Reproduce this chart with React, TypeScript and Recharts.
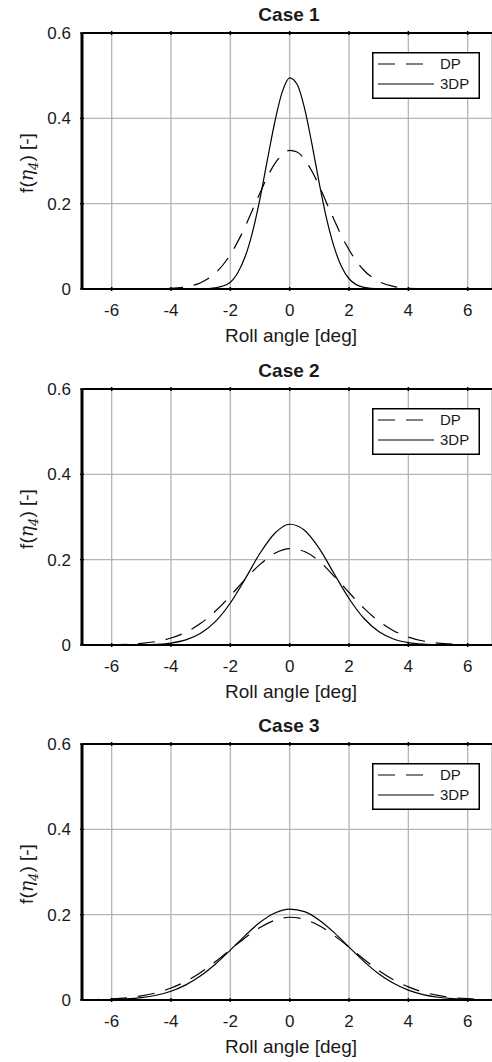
import { LineChart, Line, XAxis, YAxis, CartesianGrid, Legend, ReferenceLine } from 'recharts';

const xTicks = [-6, -4, -2, 0, 2, 4, 6];
const yTicks = [0, 0.2, 0.4, 0.6];
const seriesNames = ['DP', '3DP'];

// case 1 is narrow, so it is sampled more densely around the peak
const anglesCase1 = [-7, -6, -5, -4, -3.5, -3, -2.5, -2, -1.75, -1.5, -1.25, -1, -0.75, -0.5, -0.25, 0, 0.25, 0.5, 0.75, 1, 1.25, 1.5, 1.75, 2, 2.5, 3, 3.5, 4, 5, 6, 7];
const dpCase1 = [0, 0, 0.0001, 0.0014, 0.0049, 0.0148, 0.0375, 0.0805, 0.111, 0.146, 0.186, 0.225, 0.263, 0.294, 0.315, 0.325, 0.321, 0.304, 0.276, 0.241, 0.201, 0.162, 0.124, 0.092, 0.044, 0.018, 0.006, 0.0018, 0.0001, 0, 0];
const dp3Case1 = [0, 0, 0, 0, 0, 0.0005, 0.003, 0.016, 0.038, 0.076, 0.134, 0.212, 0.303, 0.392, 0.462, 0.495, 0.48, 0.424, 0.34, 0.247, 0.163, 0.098, 0.052, 0.024, 0.004, 0.0005, 0, 0, 0, 0, 0];

const anglesWide = [-7, -6.5, -6, -5.5, -5, -4.5, -4, -3.5, -3, -2.5, -2, -1.5, -1, -0.5, 0, 0.5, 1, 1.5, 2, 2.5, 3, 3.5, 4, 4.5, 5, 5.5, 6, 6.5, 7];
const dpCase2 = [0.0001, 0.0003, 0.0006, 0.0016, 0.0038, 0.0082, 0.0163, 0.03, 0.0508, 0.0796, 0.115, 0.154, 0.189, 0.215, 0.226, 0.219, 0.196, 0.161, 0.123, 0.0863, 0.0559, 0.0334, 0.0185, 0.0094, 0.0044, 0.0019, 0.0008, 0.0003, 0.0001];
const dp3Case2 = [0, 0, 0, 0.0001, 0.0005, 0.0016, 0.0046, 0.0119, 0.0273, 0.0552, 0.0985, 0.155, 0.215, 0.262, 0.283, 0.269, 0.226, 0.167, 0.109, 0.0627, 0.0317, 0.0142, 0.0056, 0.0019, 0.0006, 0.0002, 0, 0, 0];
const dpCase3 = [0.0005, 0.0012, 0.0026, 0.0051, 0.0096, 0.0167, 0.028, 0.0437, 0.0646, 0.09, 0.118, 0.146, 0.17, 0.187, 0.194, 0.189, 0.174, 0.151, 0.124, 0.0955, 0.0694, 0.0475, 0.0307, 0.0187, 0.0107, 0.0058, 0.003, 0.0014, 0.0006];
const dp3Case3 = [0.0002, 0.0005, 0.0012, 0.0026, 0.0056, 0.0111, 0.0206, 0.0354, 0.0566, 0.0844, 0.117, 0.151, 0.182, 0.204, 0.213, 0.207, 0.187, 0.158, 0.124, 0.0906, 0.0617, 0.0391, 0.0231, 0.0127, 0.0065, 0.0031, 0.0014, 0.0006, 0.0002];

const cases = [
  { title: 'Case 1', angles: anglesCase1, dp: dpCase1, dp3: dp3Case1, top: 0 },
  { title: 'Case 2', angles: anglesWide, dp: dpCase2, dp3: dp3Case2, top: 356 },
  { title: 'Case 3', angles: anglesWide, dp: dpCase3, dp3: dp3Case3, top: 711 },
];

const font = '"Liberation Sans", Arial, Helvetica, sans-serif';
const ink = '#1a1a1a';

function BottomTick({ x, y, payload }: any) {
  return (
    <g>
      <line x1={x} y1={y} x2={x} y2={y - 4} stroke="#000" strokeWidth={1.5} />
      <text x={x} y={y + 25} textAnchor="middle" fontSize={17} fontFamily={font} fill={ink}>
        {payload.value}
      </text>
    </g>
  );
}

function TopTick({ x, y }: any) {
  return <line x1={x} y1={y} x2={x} y2={y + 4} stroke="#000" strokeWidth={1.5} />;
}

function LeftTick({ x, y, payload }: any) {
  return (
    <g>
      <line x1={x} y1={y} x2={x + 4} y2={y} stroke="#000" strokeWidth={1.5} />
      <text x={x - 9} y={y} dy="0.36em" textAnchor="end" fontSize={17} fontFamily={font} fill={ink}>
        {payload.value}
      </text>
    </g>
  );
}

function TitleLabel({ viewBox, text }: any) {
  return (
    <text x={viewBox.x + viewBox.width / 2 + 2} y={viewBox.y + viewBox.height - 12} textAnchor="middle" fontSize={19} fontWeight="bold" fontFamily={font} fill={ink}>
      {text}
    </text>
  );
}

function XTitle({ viewBox }: any) {
  return (
    <text x={viewBox.x + viewBox.width / 2 + 4} y={viewBox.y + 53} textAnchor="middle" fontSize={19} fontFamily={font} fill={ink}>
      Roll angle [deg]
    </text>
  );
}

function YTitle({ viewBox }: any) {
  const cx = 33;
  const cy = viewBox.y + viewBox.height / 2 + 2;
  return (
    <text transform={`rotate(-90 ${cx} ${cy})`} x={cx} y={cy} textAnchor="middle" fontSize={19} fontFamily={font} fill={ink}>
      f(<tspan fontFamily="DejaVu Serif" fontStyle="italic">η</tspan>
      <tspan fontSize={13} dy={5} fontFamily="DejaVu Serif" fontStyle="italic">4</tspan>
      <tspan dy={-5}>) [-]</tspan>
    </text>
  );
}

function BoxLegend({ payload }: any) {
  const items = [...(payload ?? [])].sort((a: any, b: any) => seriesNames.indexOf(a.value) - seriesNames.indexOf(b.value));
  return (
    <svg width={108} height={47} style={{ display: 'block' }}>
      <rect x={0.75} y={0.75} width={106.5} height={45.5} fill="#fff" stroke="#000" strokeWidth={1.5} />
      {items.map((entry: any, i: number) => {
        const cy = 12 + i * 20;
        return (
          <g key={entry.value}>
            <line x1={6} y1={cy} x2={62} y2={cy} stroke="#000" strokeWidth={1.2} strokeDasharray={entry.payload?.strokeDasharray} />
            <text x={68} y={cy} dy="0.36em" fontSize={15} fontFamily={font} fill={ink}>
              {entry.value}
            </text>
          </g>
        );
      })}
    </svg>
  );
}

function CasePlot({ title, angles, dp, dp3 }: { title: string; angles: number[]; dp: number[]; dp3: number[] }) {
  const rows = angles.map((a, i) => ({ angle: a, DP: dp[i], '3DP': dp3[i] }));
  return (
    <LineChart width={492} height={355} data={rows} margin={{ top: 32, right: 0, bottom: 0, left: 0 }}>
      <CartesianGrid stroke="#b5b5b5" strokeWidth={1.3} />
      <XAxis
        dataKey="angle"
        type="number"
        domain={[-7, 6.82]}
        ticks={xTicks}
        interval={0}
        allowDataOverflow
        height={66}
        tickSize={0}
        tickLine={false}
        tick={<BottomTick />}
        axisLine={{ stroke: '#000', strokeWidth: 2 }}
        label={<XTitle />}
      />
      <XAxis
        xAxisId="top"
        orientation="top"
        dataKey="angle"
        type="number"
        domain={[-7, 6.82]}
        ticks={xTicks}
        interval={0}
        allowDataOverflow
        height={1}
        tickSize={0}
        tickLine={false}
        tick={<TopTick />}
        axisLine={{ stroke: '#000', strokeWidth: 2 }}
        label={<TitleLabel text={title} />}
      />
      <YAxis
        type="number"
        domain={[0, 0.6]}
        ticks={yTicks}
        interval={0}
        width={82}
        tickSize={0}
        tickLine={false}
        tick={<LeftTick />}
        axisLine={{ stroke: '#000', strokeWidth: 2 }}
        label={<YTitle />}
      />
      <ReferenceLine x={-7} stroke="#000" strokeWidth={3} ifOverflow="visible" />
      <Line type="monotone" dataKey="DP" name="DP" stroke="#000" strokeWidth={1.2} strokeDasharray="17 11" dot={false} isAnimationActive={false} />
      <Line type="monotone" dataKey="3DP" name="3DP" stroke="#000" strokeWidth={1.2} dot={false} isAnimationActive={false} />
      <Legend
        layout="vertical"
        align="center"
        verticalAlign="middle"
        content={<BoxLegend />}
        wrapperStyle={{ left: 372, top: 52, width: 108, height: 47 }}
      />
    </LineChart>
  );
}

export default function App() {
  return (
    <div style={{ position: 'absolute', left: 0, top: 0, width: 492, height: 1062, overflow: 'hidden', background: '#fff' }}>
      {cases.map((c) => (
        <div key={c.title} style={{ position: 'absolute', left: 0, top: c.top }}>
          <CasePlot title={c.title} angles={c.angles} dp={c.dp} dp3={c.dp3} />
        </div>
      ))}
    </div>
  );
}
